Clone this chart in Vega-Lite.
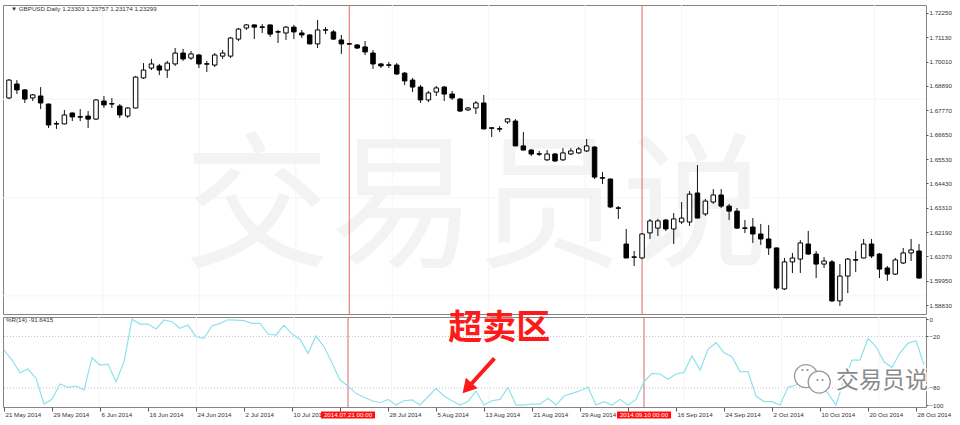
{
"$schema": "https://vega.github.io/schema/vega-lite/v6.json",
"background": "#ffffff",
"padding": {"left": 2, "top": 4, "right": 0, "bottom": 0},
"spacing": 3,
"bounds": "flush",
"datasets": {
"bars": [
{"i":0,"o":1.6834,"h":1.6921,"l":1.6829,"c":1.6916,"wr":-35.9},
{"i":1,"o":1.6898,"h":1.6916,"l":1.6852,"c":1.6871,"wr":-47.5},
{"i":2,"o":1.6871,"h":1.6875,"l":1.6811,"c":1.6829,"wr":-62.3},
{"i":3,"o":1.6834,"h":1.6852,"l":1.6820,"c":1.6848,"wr":-58},
{"i":4,"o":1.6843,"h":1.6884,"l":1.6783,"c":1.6811,"wr":-68.9},
{"i":5,"o":1.6806,"h":1.6808,"l":1.6696,"c":1.6710,"wr":-98.8},
{"i":6,"o":1.6714,"h":1.6728,"l":1.6692,"c":1.6717,"wr":-93.4},
{"i":7,"o":1.6715,"h":1.6779,"l":1.6713,"c":1.6756,"wr":-75.5},
{"i":8,"o":1.6765,"h":1.6767,"l":1.6728,"c":1.6747,"wr":-79.4},
{"i":9,"o":1.6748,"h":1.6783,"l":1.6728,"c":1.6746,"wr":-77.8},
{"i":10,"o":1.6751,"h":1.6774,"l":1.6696,"c":1.6737,"wr":-82.5},
{"i":11,"o":1.6737,"h":1.6829,"l":1.6733,"c":1.6825,"wr":-44.8},
{"i":12,"o":1.6820,"h":1.6843,"l":1.6788,"c":1.6802,"wr":-53.3},
{"i":13,"o":1.6808,"h":1.6834,"l":1.6788,"c":1.6806,"wr":-52.2},
{"i":14,"o":1.6797,"h":1.6806,"l":1.6742,"c":1.6756,"wr":-72.8},
{"i":15,"o":1.6751,"h":1.6792,"l":1.6742,"c":1.6788,"wr":-49.5},
{"i":16,"o":1.6788,"h":1.6935,"l":1.6786,"c":1.6930,"wr":0},
{"i":17,"o":1.6926,"h":1.6994,"l":1.6921,"c":1.6962,"wr":-5.5},
{"i":18,"o":1.6971,"h":1.7013,"l":1.6962,"c":1.6990,"wr":-5.5},
{"i":19,"o":1.6981,"h":1.6990,"l":1.6939,"c":1.6962,"wr":-11.3},
{"i":20,"o":1.6962,"h":1.7004,"l":1.6926,"c":1.6994,"wr":-0.8},
{"i":21,"o":1.6990,"h":1.7063,"l":1.6981,"c":1.7040,"wr":-2.8},
{"i":22,"o":1.7040,"h":1.7059,"l":1.7004,"c":1.7013,"wr":-10.5},
{"i":23,"o":1.7017,"h":1.7049,"l":1.7008,"c":1.7036,"wr":-6.7},
{"i":24,"o":1.7031,"h":1.7036,"l":1.6971,"c":1.6990,"wr":-20.3},
{"i":25,"o":1.6991,"h":1.7004,"l":1.6953,"c":1.6989,"wr":-22.2},
{"i":26,"o":1.6985,"h":1.7040,"l":1.6976,"c":1.7031,"wr":-7.8},
{"i":27,"o":1.7026,"h":1.7054,"l":1.7013,"c":1.7040,"wr":-4.7},
{"i":28,"o":1.7026,"h":1.7114,"l":1.7017,"c":1.7109,"wr":-0.5},
{"i":29,"o":1.7104,"h":1.7155,"l":1.7095,"c":1.7150,"wr":-1},
{"i":30,"o":1.7155,"h":1.7173,"l":1.7146,"c":1.7169,"wr":-1.5},
{"i":31,"o":1.7169,"h":1.7171,"l":1.7104,"c":1.7159,"wr":-4.7},
{"i":32,"o":1.7160,"h":1.7173,"l":1.7132,"c":1.7158,"wr":-4.7},
{"i":33,"o":1.7169,"h":1.7170,"l":1.7114,"c":1.7127,"wr":-17.2},
{"i":34,"o":1.7138,"h":1.7146,"l":1.7086,"c":1.7136,"wr":-18.3},
{"i":35,"o":1.7132,"h":1.7164,"l":1.7100,"c":1.7159,"wr":-6.7},
{"i":36,"o":1.7159,"h":1.7169,"l":1.7104,"c":1.7137,"wr":-17.2},
{"i":37,"o":1.7132,"h":1.7146,"l":1.7109,"c":1.7123,"wr":-23.3},
{"i":38,"o":1.7123,"h":1.7127,"l":1.7080,"c":1.7082,"wr":-39.7},
{"i":39,"o":1.7082,"h":1.7192,"l":1.7063,"c":1.7146,"wr":-19.5},
{"i":40,"o":1.7145,"h":1.7159,"l":1.7127,"c":1.7147,"wr":-32},
{"i":41,"o":1.7137,"h":1.7146,"l":1.7100,"c":1.7104,"wr":-51},
{"i":42,"o":1.7100,"h":1.7123,"l":1.7036,"c":1.7082,"wr":-70.8},
{"i":43,"o":1.7083,"h":1.7086,"l":1.7077,"c":1.7081,"wr":-77.8},
{"i":44,"o":1.7077,"h":1.7082,"l":1.7059,"c":1.7063,"wr":-86.4},
{"i":45,"o":1.7068,"h":1.7095,"l":1.7031,"c":1.7045,"wr":-91},
{"i":46,"o":1.7040,"h":1.7054,"l":1.6967,"c":1.6990,"wr":-95},
{"i":47,"o":1.6990,"h":1.6994,"l":1.6971,"c":1.6981,"wr":-97.3},
{"i":48,"o":1.6986,"h":1.6999,"l":1.6971,"c":1.6984,"wr":-93.4},
{"i":49,"o":1.6985,"h":1.6994,"l":1.6939,"c":1.6944,"wr":-100},
{"i":50,"o":1.6948,"h":1.6953,"l":1.6893,"c":1.6912,"wr":-95},
{"i":51,"o":1.6916,"h":1.6926,"l":1.6861,"c":1.6884,"wr":-94},
{"i":52,"o":1.6884,"h":1.6893,"l":1.6811,"c":1.6825,"wr":-100},
{"i":53,"o":1.6825,"h":1.6866,"l":1.6815,"c":1.6857,"wr":-90.3},
{"i":54,"o":1.6861,"h":1.6889,"l":1.6843,"c":1.6880,"wr":-80.5},
{"i":55,"o":1.6884,"h":1.6889,"l":1.6820,"c":1.6852,"wr":-89.5},
{"i":56,"o":1.6852,"h":1.6866,"l":1.6825,"c":1.6834,"wr":-95},
{"i":57,"o":1.6829,"h":1.6834,"l":1.6770,"c":1.6774,"wr":-100},
{"i":58,"o":1.6779,"h":1.6793,"l":1.6774,"c":1.6788,"wr":-96},
{"i":59,"o":1.6788,"h":1.6820,"l":1.6760,"c":1.6811,"wr":-83.7},
{"i":60,"o":1.6811,"h":1.6848,"l":1.6690,"c":1.6692,"wr":-100},
{"i":61,"o":1.6697,"h":1.6699,"l":1.6655,"c":1.6695,"wr":-95},
{"i":62,"o":1.6693,"h":1.6705,"l":1.6678,"c":1.6691,"wr":-93.4},
{"i":63,"o":1.6724,"h":1.6742,"l":1.6715,"c":1.6738,"wr":-79.4},
{"i":64,"o":1.6728,"h":1.6737,"l":1.6613,"c":1.6614,"wr":-100},
{"i":65,"o":1.6614,"h":1.6678,"l":1.6594,"c":1.6595,"wr":-100},
{"i":66,"o":1.6595,"h":1.6600,"l":1.6568,"c":1.6577,"wr":-98.8},
{"i":67,"o":1.6578,"h":1.6591,"l":1.6568,"c":1.6576,"wr":-99},
{"i":68,"o":1.6550,"h":1.6595,"l":1.6545,"c":1.6577,"wr":-92.2},
{"i":69,"o":1.6577,"h":1.6582,"l":1.6540,"c":1.6545,"wr":-100},
{"i":70,"o":1.6550,"h":1.6604,"l":1.6545,"c":1.6582,"wr":-89.5},
{"i":71,"o":1.6577,"h":1.6604,"l":1.6572,"c":1.6591,"wr":-86.4},
{"i":72,"o":1.6582,"h":1.6609,"l":1.6577,"c":1.6600,"wr":-83.3},
{"i":73,"o":1.6591,"h":1.6646,"l":1.6586,"c":1.6614,"wr":-79.4},
{"i":74,"o":1.6609,"h":1.6612,"l":1.6462,"c":1.6471,"wr":-100},
{"i":75,"o":1.6468,"h":1.6494,"l":1.6439,"c":1.6466,"wr":-96},
{"i":76,"o":1.6462,"h":1.6465,"l":1.6329,"c":1.6334,"wr":-100},
{"i":77,"o":1.6330,"h":1.6338,"l":1.6279,"c":1.6328,"wr":-93.4},
{"i":78,"o":1.6164,"h":1.6233,"l":1.6100,"c":1.6100,"wr":-100},
{"i":79,"o":1.6105,"h":1.6132,"l":1.6063,"c":1.6103,"wr":-93.4},
{"i":80,"o":1.6100,"h":1.6214,"l":1.6095,"c":1.6210,"wr":-72.8},
{"i":81,"o":1.6215,"h":1.6279,"l":1.6187,"c":1.6270,"wr":-63},
{"i":82,"o":1.6237,"h":1.6279,"l":1.6201,"c":1.6270,"wr":-63.8},
{"i":83,"o":1.6274,"h":1.6279,"l":1.6224,"c":1.6233,"wr":-70},
{"i":84,"o":1.6233,"h":1.6306,"l":1.6164,"c":1.6279,"wr":-63.8},
{"i":85,"o":1.6265,"h":1.6357,"l":1.6256,"c":1.6283,"wr":-61.9},
{"i":86,"o":1.6265,"h":1.6407,"l":1.6247,"c":1.6393,"wr":-42.5},
{"i":87,"o":1.6398,"h":1.6526,"l":1.6283,"c":1.6283,"wr":-59.2},
{"i":88,"o":1.6302,"h":1.6371,"l":1.6293,"c":1.6361,"wr":-35},
{"i":89,"o":1.6357,"h":1.6416,"l":1.6348,"c":1.6389,"wr":-27.3},
{"i":90,"o":1.6389,"h":1.6416,"l":1.6329,"c":1.6338,"wr":-39},
{"i":91,"o":1.6338,"h":1.6348,"l":1.6274,"c":1.6315,"wr":-43.6},
{"i":92,"o":1.6315,"h":1.6329,"l":1.6233,"c":1.6237,"wr":-61},
{"i":93,"o":1.6238,"h":1.6274,"l":1.6214,"c":1.6236,"wr":-61},
{"i":94,"o":1.6242,"h":1.6283,"l":1.6169,"c":1.6210,"wr":-89.5},
{"i":95,"o":1.6210,"h":1.6256,"l":1.6160,"c":1.6187,"wr":-96},
{"i":96,"o":1.6187,"h":1.6251,"l":1.6114,"c":1.6146,"wr":-96},
{"i":97,"o":1.6146,"h":1.6148,"l":1.5953,"c":1.5962,"wr":-100},
{"i":98,"o":1.5958,"h":1.6100,"l":1.5953,"c":1.6082,"wr":-79.4},
{"i":99,"o":1.6082,"h":1.6123,"l":1.6031,"c":1.6100,"wr":-76.7},
{"i":100,"o":1.6095,"h":1.6182,"l":1.6031,"c":1.6169,"wr":-65},
{"i":101,"o":1.6164,"h":1.6224,"l":1.6114,"c":1.6118,"wr":-70.8},
{"i":102,"o":1.6118,"h":1.6132,"l":1.6008,"c":1.6072,"wr":-76},
{"i":103,"o":1.6072,"h":1.6104,"l":1.6054,"c":1.6086,"wr":-86.4},
{"i":104,"o":1.6082,"h":1.6091,"l":1.5898,"c":1.5903,"wr":-100},
{"i":105,"o":1.5903,"h":1.6072,"l":1.5880,"c":1.6017,"wr":-70.8},
{"i":106,"o":1.6017,"h":1.6100,"l":1.5939,"c":1.6095,"wr":-47.5},
{"i":107,"o":1.6092,"h":1.6132,"l":1.6036,"c":1.6090,"wr":-47.5},
{"i":108,"o":1.6100,"h":1.6187,"l":1.6098,"c":1.6164,"wr":-22.2},
{"i":109,"o":1.6164,"h":1.6187,"l":1.6100,"c":1.6109,"wr":-32},
{"i":110,"o":1.6118,"h":1.6123,"l":1.6008,"c":1.6049,"wr":-49.5},
{"i":111,"o":1.6054,"h":1.6063,"l":1.5995,"c":1.6026,"wr":-56},
{"i":112,"o":1.6026,"h":1.6100,"l":1.6022,"c":1.6091,"wr":-39},
{"i":113,"o":1.6077,"h":1.6146,"l":1.6072,"c":1.6123,"wr":-28},
{"i":114,"o":1.6123,"h":1.6187,"l":1.6086,"c":1.6137,"wr":-25},
{"i":115,"o":1.6132,"h":1.6164,"l":1.6004,"c":1.6008,"wr":-53}
],
"vgrid": [{"i":11.875},{"i":24.06},{"i":36.25},{"i":48.44},{"i":60.63},{"i":72.81},{"i":85},{"i":97.19},{"i":109.38}],
"hgrid": [{"p":1.6828},{"p":1.6376},{"p":1.5926}],
"events": [{"i":43,"label":"2014.07.21 00:00"},{"i":80,"label":"2014.09.10 00:00"}],
"levels": [{"v":-20},{"v":-80}]
},
"vconcat": [
{
"width": 923, "height": 309,
"layer": [
{"data": {"name": "hgrid"}, "mark": {"type": "rule", "color": "#f5f5f5", "strokeWidth": 1},
 "encoding": {"y": {"field": "p", "type": "quantitative", "scale": {"domain": [1.5843, 1.72604], "nice": false, "zero": false},
   "axis": {"orient": "right", "title": null, "values": [1.7225, 1.7113, 1.7001, 1.6889, 1.6777, 1.6665, 1.6553, 1.6443, 1.6331, 1.6219, 1.6107, 1.5995, 1.5883], "tickCount": 100, "format": ".5f", "grid": false, "domain": false, "ticks": true, "tickSize": 2, "tickColor": "#555555", "labelPadding": 1, "labelFont": "Liberation Sans", "labelFontSize": 6.2, "labelColor": "#333333", "labelOverlap": false, "labelBound": false, "labelFlush": false}}}},
{"data": {"name": "vgrid"}, "mark": {"type": "rule", "color": "#f5f5f5", "strokeWidth": 1},
 "encoding": {"x": {"field": "i", "type": "quantitative", "scale": {"domain": [-0.125, 115.25], "nice": false, "zero": false}, "axis": null}}},
{"data": {"values": [{"t": "交易员说"}]}, "mark": {"type": "text", "font": "Noto Sans CJK SC", "fontSize": 146, "color": "#f3f3f3", "align": "center", "baseline": "middle"},
 "encoding": {"x": {"datum": 59, "type": "quantitative", "scale": {"domain": [-0.125, 115.25], "nice": false, "zero": false}, "axis": null},
  "y": {"datum": 1.6316, "type": "quantitative"},
  "text": {"field": "t"}}},
{"data": {"values": [{"t": "▼ GBPUSD,Daily  1.23303 1.23757 1.23174 1.23299"}]}, "mark": {"type": "text", "font": "Liberation Sans", "fontSize": 6.2, "color": "#333333", "align": "left", "baseline": "middle"},
 "encoding": {"x": {"datum": 0.25, "type": "quantitative", "scale": {"domain": [-0.125, 115.25], "nice": false, "zero": false}, "axis": null},
  "y": {"datum": 1.7242, "type": "quantitative"},
  "text": {"field": "t"}}},
{"data": {"name": "events"}, "mark": {"type": "rule", "color": "#e06464", "strokeWidth": 1},
 "encoding": {"x": {"field": "i", "type": "quantitative", "scale": {"domain": [-0.125, 115.25], "nice": false, "zero": false}, "axis": null}}},
{"data": {"name": "bars"}, "mark": {"type": "rule", "color": "#111111", "strokeWidth": 1, "clip": true},
 "encoding": {"x": {"field": "i", "type": "quantitative", "scale": {"domain": [-0.125, 115.25], "nice": false, "zero": false}, "axis": null},
  "y": {"field": "l", "type": "quantitative"},
  "y2": {"field": "h"}}},
{"data": {"name": "bars"}, "mark": {"type": "bar", "size": 4.5, "stroke": "#000000", "strokeWidth": 1, "clip": true},
 "encoding": {"x": {"field": "i", "type": "quantitative", "scale": {"domain": [-0.125, 115.25], "nice": false, "zero": false}, "axis": null},
  "y": {"field": "o", "type": "quantitative"},
  "y2": {"field": "c"},
  "fill": {"condition": {"test": "datum.c < datum.o", "value": "#000000"}, "value": "#ffffff"}}}
]
},
{
"width": 923, "height": 90,
"layer": [
{"data": {"name": "levels"}, "mark": {"type": "rule", "color": "#c4c4c4", "strokeWidth": 1, "strokeDash": [1, 2]},
 "encoding": {"y": {"field": "v", "type": "quantitative", "scale": {"domain": [-102.3, 2.7], "nice": false, "zero": false},
   "axis": {"orient": "right", "title": null, "values": [0, -20, -80, -100], "tickCount": 100, "format": "d", "grid": false, "domain": false, "ticks": true, "tickSize": 2, "tickColor": "#555555", "labelPadding": 1, "labelFont": "Liberation Sans", "labelFontSize": 6.2, "labelColor": "#333333", "labelOverlap": false, "labelBound": false, "labelFlush": false}}}},
{"data": {"name": "vgrid"}, "mark": {"type": "rule", "color": "#f5f5f5", "strokeWidth": 1},
 "encoding": {"x": {"field": "i", "type": "quantitative", "scale": {"domain": [-0.125, 115.25], "nice": false, "zero": false},
   "axis": {"orient": "bottom", "title": null, "values": [0,6,12,18,24,30,36,42,48,54,60,66,72,78,84,90,96,102,108,114], "tickCount": 100,
    "labelExpr": "['21 May 2014','29 May 2014','6 Jun 2014','16 Jun 2014','24 Jun 2014','2 Jul 2014','10 Jul 2014','','28 Jul 2014','5 Aug 2014','13 Aug 2014','21 Aug 2014','29 Aug 2014','','16 Sep 2014','24 Sep 2014','2 Oct 2014','10 Oct 2014','20 Oct 2014','28 Oct 2014'][round(datum.value/6)]",
    "grid": false, "domain": false, "ticks": true, "tickSize": 4, "tickColor": "#555555", "labelAlign": "left", "labelBaseline": "top", "labelPadding": 0, "labelOffset": 1, "labelFont": "Liberation Sans", "labelFontSize": 6.2, "labelColor": "#333333", "labelOverlap": false, "labelBound": false, "labelFlush": false}}}},
{"data": {"name": "events"}, "mark": {"type": "rule", "color": "#e06464", "strokeWidth": 1},
 "encoding": {"x": {"field": "i", "type": "quantitative"}}},
{"data": {"name": "bars"}, "mark": {"type": "line", "color": "#8fe2ec", "strokeWidth": 1.2, "clip": true},
 "encoding": {"x": {"field": "i", "type": "quantitative"},
  "y": {"field": "wr", "type": "quantitative"}}},
{"data": {"values": [{"t": "%R(14) -91.6415"}]}, "mark": {"type": "text", "font": "Liberation Sans", "fontSize": 6.2, "color": "#333333", "align": "left", "baseline": "middle"},
 "encoding": {"x": {"datum": 0.25, "type": "quantitative"},
  "y": {"datum": -1.0, "type": "quantitative"},
  "text": {"field": "t"}}},
{"data": {"values": [{}]}, "mark": {"type": "point", "shape": "circle", "size": 529, "fill": "#ffffff", "stroke": "#9a9a9a", "strokeWidth": 1.3, "opacity": 1},
 "encoding": {"x": {"datum": 100.25, "type": "quantitative"},
  "y": {"datum": -66.2, "type": "quantitative"}}},
{"data": {"values": [{}]}, "mark": {"type": "point", "shape": "circle", "size": 484, "fill": "#ffffff", "stroke": "#9a9a9a", "strokeWidth": 1.3, "opacity": 1},
 "encoding": {"x": {"datum": 101.9, "type": "quantitative"},
  "y": {"datum": -73.2, "type": "quantitative"}}},
{"data": {"values": [{"t": "•  •"}]}, "mark": {"type": "text", "font": "Liberation Sans", "fontSize": 8, "color": "#9a9a9a", "align": "center", "baseline": "middle"},
 "encoding": {"x": {"datum": 100.1, "type": "quantitative"},
  "y": {"datum": -59.2, "type": "quantitative"},
  "text": {"field": "t"}}},
{"data": {"values": [{"t": "•  •"}]}, "mark": {"type": "text", "font": "Liberation Sans", "fontSize": 8, "color": "#9a9a9a", "align": "center", "baseline": "middle"},
 "encoding": {"x": {"datum": 102.0, "type": "quantitative"},
  "y": {"datum": -70.9, "type": "quantitative"},
  "text": {"field": "t"}}},
{"data": {"values": [{"t": "交易员说"}]}, "mark": {"type": "text", "font": "Noto Sans CJK SC", "fontSize": 23, "fill": "#ffffff", "stroke": "#ffffff", "strokeWidth": 3, "align": "center", "baseline": "middle"},
 "encoding": {"x": {"datum": 109.75, "type": "quantitative"},
  "y": {"datum": -72, "type": "quantitative"},
  "text": {"field": "t"}}},
{"data": {"values": [{"t": "交易员说"}]}, "mark": {"type": "text", "font": "Noto Sans CJK SC", "fontSize": 23, "color": "#8a8a8a", "align": "center", "baseline": "middle"},
 "encoding": {"x": {"datum": 109.75, "type": "quantitative"},
  "y": {"datum": -72, "type": "quantitative"},
  "text": {"field": "t"}}},
{"data": {"values": [{"t": "超卖区"}]}, "mark": {"type": "text", "font": "Noto Sans CJK SC", "fontSize": 34, "fontWeight": "bold", "color": "#ff1a1a", "align": "center", "baseline": "middle"},
 "encoding": {"x": {"datum": 61.9, "type": "quantitative"},
  "y": {"datum": -11.3, "type": "quantitative"},
  "text": {"field": "t"}}},
{"data": {"values": [{}]}, "mark": {"type": "rule", "color": "#ff1a1a", "strokeWidth": 4},
 "encoding": {"x": {"datum": 61.3, "type": "quantitative"},
  "x2": {"datum": 58.4},
  "y": {"datum": -45.5, "type": "quantitative"},
  "y2": {"datum": -75.5}}},
{"data": {"values": [{}]}, "mark": {"type": "point", "shape": "triangle-up", "size": 250, "angle": 221.5, "filled": true, "color": "#ff1a1a", "opacity": 1},
 "encoding": {"x": {"datum": 57.9, "type": "quantitative"},
  "y": {"datum": -80.4, "type": "quantitative"}}},
{"data": {"name": "events"}, "mark": {"type": "point", "shape": "M-1,-0.13L1,-0.13L1,0.13L-1,0.13Z", "size": 2916, "filled": true, "color": "#ff1010", "opacity": 1},
 "encoding": {"x": {"field": "i", "type": "quantitative"},
  "y": {"datum": -111.7, "type": "quantitative"}}},
{"data": {"name": "events"}, "mark": {"type": "text", "font": "Liberation Sans", "fontSize": 6.2, "color": "#ffffff", "align": "center", "baseline": "middle"},
 "encoding": {"x": {"field": "i", "type": "quantitative"},
  "y": {"datum": -111.7, "type": "quantitative"},
  "text": {"field": "label"}}}
]
}
],
"config": {"view": {"stroke": "#858585", "strokeWidth": 1}, "font": "Liberation Sans", "axis": {"labelOverlap": false}}
}
